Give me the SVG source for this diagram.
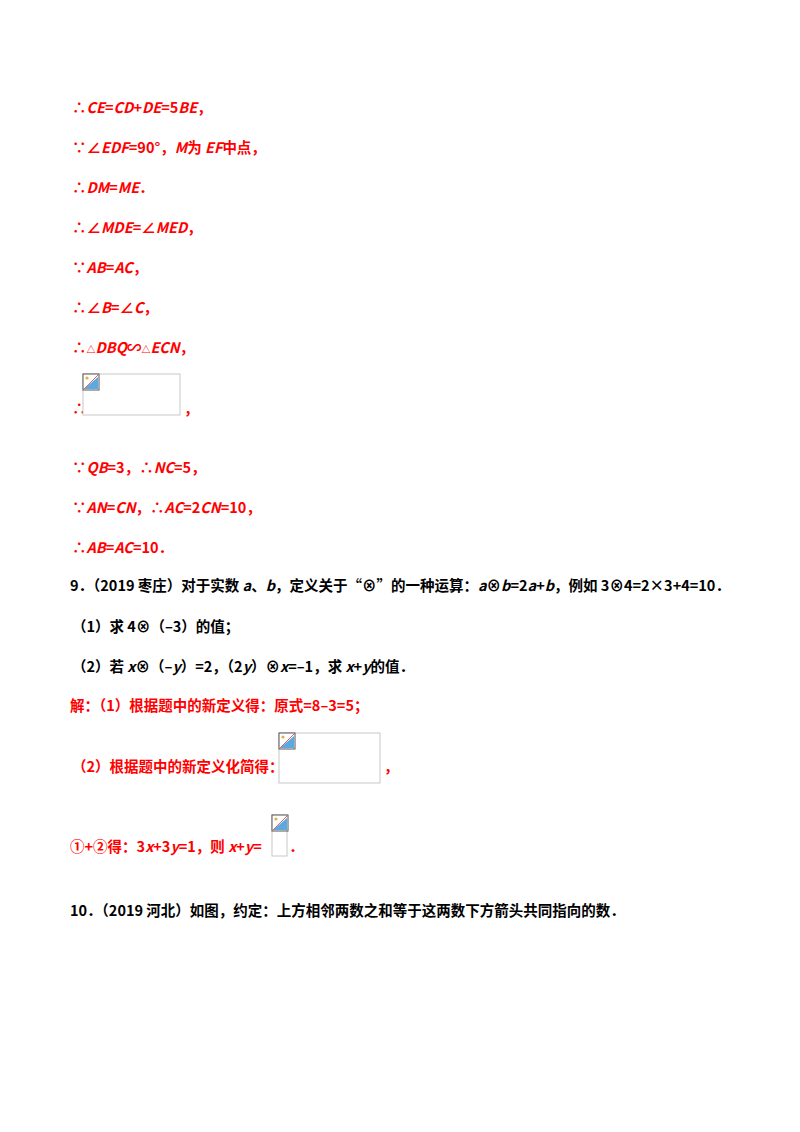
<svg xmlns="http://www.w3.org/2000/svg" width="800" height="1132" viewBox="0 0 800 1132">
<style>
text{font-family:"Noto Sans CJK SC","Noto Sans",sans-serif;font-size:14.5px;font-weight:bold}
.r{fill:#ff0000}.k{fill:#000}
.i{font-style:italic}
.box{fill:#fff;stroke:#c8c8c8;stroke-width:1}
</style>
<defs>
<g id="ic">
<rect x="0" y="0" width="16" height="16" fill="#fff" stroke="#555" stroke-width="1"/>
<polygon points="1,15 15,3 15,15" fill="#5aa9e0"/>
<line x1="1" y1="15" x2="15" y2="1" stroke="#e06060" stroke-width="1"/>
<circle cx="4" cy="4" r="1.6" fill="#e0b040"/>
</g>
</defs>
<rect width="800" height="1132" fill="#fff"/>
<g class="r">
<text x="72" y="113">∴<tspan class="i">CE</tspan>=<tspan class="i">CD</tspan>+<tspan class="i">DE</tspan>=5<tspan class="i">BE</tspan>，</text>
<text x="72" y="153">∵∠<tspan class="i">EDF</tspan>=90°，<tspan class="i">M</tspan>为 <tspan class="i">EF</tspan>中点，</text>
<text x="72" y="193">∴<tspan class="i">DM</tspan>=<tspan class="i">ME</tspan>．</text>
<text x="72" y="233">∴∠<tspan class="i">MDE</tspan>=∠<tspan class="i">MED</tspan>，</text>
<text x="72" y="273">∵<tspan class="i">AB</tspan>=<tspan class="i">AC</tspan>，</text>
<text x="72" y="313">∴∠<tspan class="i">B</tspan>=∠<tspan class="i">C</tspan>，</text>
<text x="72" y="353">∴<tspan font-size="9">△</tspan><tspan class="i">DBQ</tspan>∽<tspan font-size="9">△</tspan><tspan class="i">ECN</tspan>，</text>
<text x="72" y="414">∴</text>
<text x="184" y="414">，</text>
<text x="72" y="473">∵<tspan class="i">QB</tspan>=3，∴<tspan class="i">NC</tspan>=5，</text>
<text x="72" y="513">∵<tspan class="i">AN</tspan>=<tspan class="i">CN</tspan>，∴<tspan class="i">AC</tspan>=2<tspan class="i">CN</tspan>=10，</text>
<text x="72" y="553">∴<tspan class="i">AB</tspan>=<tspan class="i">AC</tspan>=10．</text>
<text x="70" y="711">解：（1）根据题中的新定义得：原式=8–3=5；</text>
<text x="72" y="772">（2）根据题中的新定义化简得：</text>
<text x="384" y="772">，</text>
<text x="70" y="852">①+②得：3<tspan class="i">x</tspan>+3<tspan class="i">y</tspan>=1，则 <tspan class="i">x</tspan>+<tspan class="i">y</tspan>=</text>
<text x="289" y="852">．</text>
</g>
<g class="k">
<text x="70" y="591">9．（2019 枣庄）对于实数 <tspan class="i">a</tspan>、<tspan class="i">b</tspan>，定义关于“⊗”的一种运算：<tspan class="i">a</tspan>⊗<tspan class="i">b</tspan>=2<tspan class="i">a</tspan>+<tspan class="i">b</tspan>，例如 3⊗4=2×3+4=10．</text>
<text x="72" y="632">（1）求 4⊗（–3）的值；</text>
<text x="72" y="672">（2）若 <tspan class="i">x</tspan>⊗（–<tspan class="i">y</tspan>）=2，（2<tspan class="i">y</tspan>）⊗<tspan class="i">x</tspan>=–1，求 <tspan class="i">x</tspan>+<tspan class="i">y</tspan>的值．</text>
<text x="70" y="916">10．（2019 河北）如图，约定：上方相邻两数之和等于这两数下方箭头共同指向的数．</text>
</g>
<g id="img1"><rect class="box" x="83" y="374" width="97" height="41"/><use href="#ic" x="83" y="374"/></g>
<g id="img2"><rect class="box" x="279" y="733" width="101" height="50"/><use href="#ic" x="279" y="733"/></g>
<g id="img3"><rect class="box" x="272" y="815" width="15" height="41"/><use href="#ic" x="272" y="815" transform="translate(0,0)"/></g>
</svg>
